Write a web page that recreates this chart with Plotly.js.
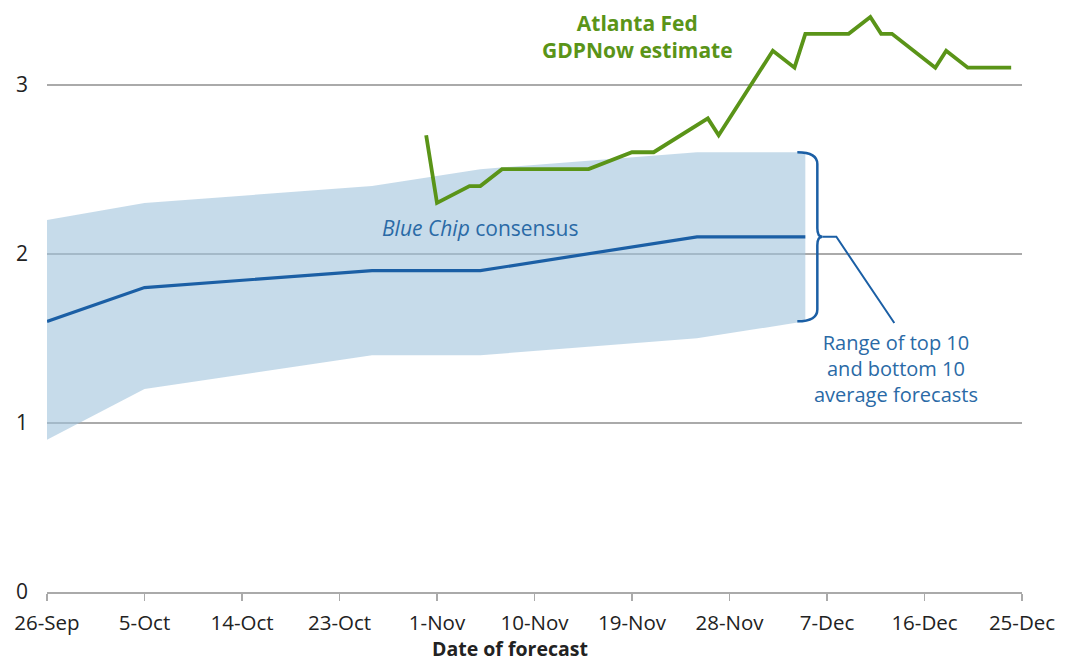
<!DOCTYPE html>
<html>
<head>
<meta charset="utf-8">
<script src="https://cdn.plot.ly/plotly-3.0.1.min.js"></script>
<style>html,body{margin:0;padding:0;background:#fff;}#chart{width:1065px;height:661px;}</style>
</head>
<body>
<div id="chart"></div>
<script>
// Blue Chip consensus (survey dates) and range of top/bottom 10 average forecasts
var bcDates = ['2024-09-26','2024-10-05','2024-10-26','2024-11-05','2024-11-25','2024-12-05'];
var bcConsensus = [1.6, 1.8, 1.9, 1.9, 2.1, 2.1];
var bcTop10 = [2.2, 2.3, 2.4, 2.5, 2.6, 2.6];
var bcBottom10 = [0.9, 1.2, 1.4, 1.4, 1.5, 1.6];

// Atlanta Fed GDPNow estimate
var gdpDates = ['2024-10-31','2024-11-01','2024-11-04','2024-11-05','2024-11-07','2024-11-15',
  '2024-11-19','2024-11-21','2024-11-26','2024-11-27','2024-12-02','2024-12-04','2024-12-05',
  '2024-12-09','2024-12-11','2024-12-12','2024-12-13','2024-12-17','2024-12-18','2024-12-20','2024-12-24'];
var gdpNow = [2.7, 2.3, 2.4, 2.4, 2.5, 2.5, 2.6, 2.6, 2.8, 2.7, 3.2, 3.1, 3.3, 3.3, 3.4, 3.3, 3.3, 3.1, 3.2, 3.1, 3.1];

// Axis ticks
var xTickVals = ['2024-09-26','2024-10-05','2024-10-14','2024-10-23','2024-11-01','2024-11-10',
  '2024-11-19','2024-11-28','2024-12-07','2024-12-16','2024-12-25'];
var xTickText = ['26-Sep','5-Oct','14-Oct','23-Oct','1-Nov','10-Nov','19-Nov','28-Nov','7-Dec','16-Dec','25-Dec'];
var yTickVals = [0, 1, 2, 3];

var FONT = '"Open Sans", "Noto Sans", sans-serif';
var GREEN = '#5a9418';
var BLUE = '#1b5fa5';
var TEXTBLUE = '#2a6aa6';

var nBC = bcDates.length;
var bcLastDate = bcDates[nBC - 1];
var bandHi = bcTop10[nBC - 1], bandMid = bcConsensus[nBC - 1], bandLo = bcBottom10[nBC - 1];

var traces = [
  {x: bcDates, y: bcBottom10, type: 'scatter', mode: 'lines', line: {width: 0, color: 'rgba(0,0,0,0)'}, showlegend: false, hoverinfo: 'skip'},
  {x: bcDates, y: bcTop10, type: 'scatter', mode: 'lines', fill: 'tonexty', fillcolor: 'rgba(160,195,220,0.6)', line: {width: 0, color: 'rgba(0,0,0,0)'}, showlegend: false, hoverinfo: 'skip'},
  {x: bcDates, y: bcConsensus, type: 'scatter', mode: 'lines', line: {width: 3.2, color: BLUE}, showlegend: false},
  {x: gdpDates, y: gdpNow, type: 'scatter', mode: 'lines', line: {width: 3.8, color: GREEN}, showlegend: false}
];

var bracePath = 'M -8,' + bandHi + ' Q 12,' + bandHi + ' 12,' + (bandHi - 0.07).toFixed(3) +
  ' L 12,' + (bandMid + 0.05).toFixed(3) + ' Q 12,' + bandMid + ' 17,' + bandMid +
  ' Q 12,' + bandMid + ' 12,' + (bandMid - 0.05).toFixed(3) +
  ' L 12,' + (bandLo + 0.07).toFixed(3) + ' Q 12,' + bandLo + ' -8,' + bandLo;
var leaderPath = 'M 17,' + bandMid + ' L 31,' + bandMid + ' L 89,' + (bandLo - 0.01).toFixed(3);

var layout = {
  width: 1065, height: 661,
  margin: {l: 47, r: 43, t: 0, b: 69},
  paper_bgcolor: '#fff', plot_bgcolor: '#fff',
  font: {family: FONT, color: '#222'},
  showlegend: false,
  hovermode: false,
  xaxis: {
    type: 'date',
    range: ['2024-09-26', '2024-12-25'],
    tickvals: xTickVals, ticktext: xTickText,
    ticks: 'outside', ticklen: 7, tickwidth: 1.5, tickcolor: '#aaa',
    showline: true, linecolor: '#aaa', linewidth: 2,
    showgrid: false, zeroline: false,
    tickfont: {family: FONT, size: 20.5, color: '#222'},
    ticklabelstandoff: 4,
    fixedrange: true
  },
  yaxis: {
    range: [0, 3.5],
    tickvals: yTickVals,
    showgrid: true, gridcolor: '#aaa', gridwidth: 2,
    zeroline: false, showline: false, ticks: '',
    tickfont: {family: FONT, size: 21, color: '#222'},
    ticklabelstandoff: 18,
    fixedrange: true
  },
  shapes: [
    {type: 'path', xref: 'x', yref: 'y', xsizemode: 'pixel', xanchor: bcLastDate, path: bracePath,
     line: {color: BLUE, width: 2.5}},
    {type: 'path', xref: 'x', yref: 'y', xsizemode: 'pixel', xanchor: bcLastDate, path: leaderPath,
     line: {color: BLUE, width: 2}}
  ],
  annotations: [
    {x: '2024-11-19 12:00', y: 3.285, xref: 'x', yref: 'y', showarrow: false,
     text: '<b>Atlanta Fed<br>GDPNow estimate</b>', align: 'center',
     font: {family: FONT, size: 21, color: GREEN}},
    {x: '2024-11-05', y: 2.15, xref: 'x', yref: 'y', showarrow: false,
     text: '<i>Blue Chip</i> consensus',
     font: {family: FONT, size: 21, color: TEXTBLUE}},
    {x: bcLastDate, y: bandLo, xref: 'x', yref: 'y', xshift: 91, yshift: -6, yanchor: 'top', showarrow: false,
     text: 'Range of top 10<br>and bottom 10<br>average forecasts', align: 'center',
     font: {family: FONT, size: 20, color: TEXTBLUE}},
    {x: 0.475, y: 0, xref: 'paper', yref: 'paper', yshift: -56, showarrow: false, yanchor: 'middle', borderpad: 0,
     text: '<b>Date of forecast</b>',
     font: {family: FONT, size: 19.5, color: '#222'}}
  ]
};

Plotly.newPlot('chart', traces, layout, {staticPlot: true, displayModeBar: false});
</script>
</body>
</html>
